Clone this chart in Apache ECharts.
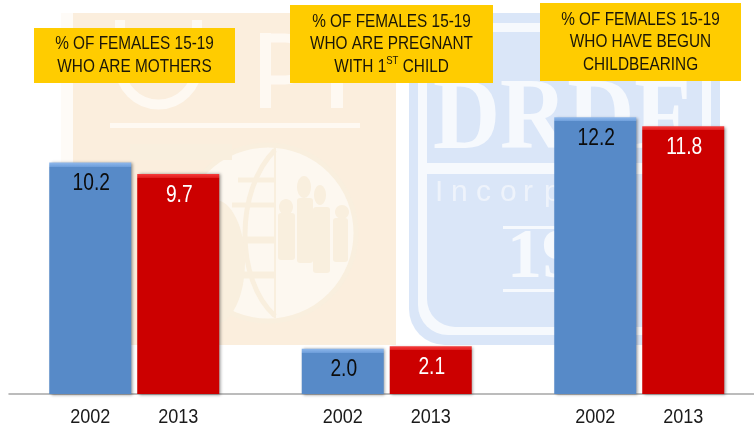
<!DOCTYPE html>
<html>
<head>
<meta charset="utf-8">
<style>
  html, body { margin: 0; padding: 0; background: #fff; }
  #main { width: 754px; height: 430px; }
</style>
</head>
<body>
<div id="main"></div>
<script src="https://cdn.jsdelivr.net/npm/echarts@6/dist/echarts.min.js"></script>
<script>
// values
var groupIndex = [0, 1, 2];
var years = ['2002', '2013'];
var values2002 = [10.2, 2.0, 12.2];
var values2013 = [9.7, 2.1, 11.8];
var headings = [
  '% OF FEMALES 15-19\nWHO ARE MOTHERS',
  '{n|% OF FEMALES 15-19}\n{n|WHO ARE PREGNANT}\n{n|WITH 1}{sup|ST}{n| CHILD}',
  '% OF FEMALES 15-19\nWHO HAVE BEGUN\nCHILDBEARING'
];

var sans = '"Liberation Sans", Arial, sans-serif';
var serif = '"Liberation Serif", serif';
var pxPerUnit = 363 / 16;
var halfPitch = 44; // bar centre to group centre

// bevel at the top of each bar: fixed pixels, so the stop depends on bar height
function bevel(value, light, mid, base) {
  var h = value * pxPerUnit;
  return {
    type: 'linear', x: 0, y: 0, x2: 0, y2: 1,
    colorStops: [
      { offset: 0, color: light },
      { offset: 4 / h, color: mid },
      { offset: 4.01 / h, color: base },
      { offset: 1, color: base }
    ]
  };
}

function barSeries(name, values, light, mid, base) {
  return {
    name: name,
    type: 'bar',
    barWidth: 82,
    barGap: '7.3%',
    data: values.map(function (v, i) {
      return { value: [groupIndex[i], v], itemStyle: { color: bevel(v, light, mid, base) } };
    }),
    itemStyle: {
      shadowColor: 'rgba(0,0,0,0.4)',
      shadowBlur: 3,
      shadowOffsetX: 1.5,
      shadowOffsetY: 0.5
    },
    z: 3
  };
}

// narrow text: no narrow face is installed, so real text is squeezed horizontally
function valueLabels(values, side, color) {
  return {
    type: 'custom',
    silent: true,
    z: 5,
    clip: false,
    data: values.map(function (v, i) { return [groupIndex[i], v]; }),
    renderItem: function (params, api) {
      var pt = api.coord([api.value(0), api.value(1)]);
      return {
        type: 'text', x: pt[0] + side * halfPitch + 1, y: pt[1] + 21, scaleX: 0.8,
        style: {
          text: api.value(1).toFixed(1), fontFamily: sans, fontSize: 24,
          fill: color, align: 'center', verticalAlign: 'middle'
        }
      };
    }
  };
}

function yearLabels(year, side) {
  return {
    type: 'custom',
    silent: true,
    z: 5,
    clip: false,
    data: groupIndex.map(function (g) { return [g, 0]; }),
    renderItem: function (params, api) {
      var pt = api.coord([api.value(0), 0]);
      return {
        type: 'text', x: pt[0] + side * halfPitch, y: 417, scaleX: 0.86,
        style: {
          text: year, fontFamily: sans, fontSize: 21,
          fill: '#1a1a1a', align: 'center', verticalAlign: 'middle'
        }
      };
    }
  };
}

// faded logo panels behind the plot
function rect(x, y, w, h, fill, r, z) {
  return { type: 'rect', z: z || -10, shape: { x: x, y: y, width: w, height: h, r: r || 0 }, style: { fill: fill } };
}
function word(x, y, text, size, fill, family, weight, scaleX) {
  return {
    type: 'text', z: -8, x: x, y: y, scaleX: scaleX || 1,
    style: { text: text, fontSize: size, fontFamily: family, fill: fill, fontWeight: weight || 'normal', verticalAlign: 'middle' }
  };
}
function disc(cx, cy, rx, ry, fill) {
  return { type: 'ellipse', z: -8, shape: { cx: cx, cy: cy, rx: rx, ry: ry }, style: { fill: fill } };
}
function line(x1, y1, x2, y2, color, lw) {
  return { type: 'line', z: -8, shape: { x1: x1, y1: y1, x2: x2, y2: y2 }, style: { stroke: color, lineWidth: lw } };
}
function arc(cx, cy, r, from, to, color, lw) {
  return { type: 'arc', z: -8, shape: { cx: cx, cy: cy, r: r, startAngle: from, endAngle: to, clockwise: true }, style: { stroke: color, lineWidth: lw, fill: 'none' } };
}

var beige = '#fbeedd';
var cream = '#fef9f2';
var seal = '#f9efde';
var blue = '#dae6f8';
var pale = '#f6f9fd';

var watermark = [
  rect(61, 13, 12, 332, '#fefbf7'),
  rect(73, 13, 323, 332, beige),
  // U P P letters, tops are hidden by the heading boxes
  line(120, 20, 120, 66, cream, 10),
  line(197, 20, 197, 66, cream, 10),
  arc(158.5, 66, 38.5, 0, Math.PI, cream, 10),
  rect(260, 33, 11, 75, cream),
  line(265, 38, 285, 38, cream, 9),
  line(265, 80, 285, 80, cream, 9),
  arc(285, 59, 21, -Math.PI / 2, Math.PI / 2, cream, 9),
  rect(331, 33, 12, 75, cream),
  rect(110, 123, 250, 5, cream),
  // seal
  { type: 'circle', z: -9, shape: { cx: 268, cy: 233, r: 88 }, style: { fill: '#fdf8f0', stroke: seal, lineWidth: 5 } },
  rect(130, 144, 102, 16, seal, 0, -8),
  line(275, 147, 275, 318, seal, 2),
  { type: 'bezierCurve', z: -8, shape: { x1: 275, y1: 150, cpx1: 235, cpy1: 190, cpx2: 235, cpy2: 280, x2: 275, y2: 316 }, style: { stroke: seal, lineWidth: 5, fill: 'none' } },
  line(238, 180, 275, 180, seal, 5),
  line(232, 205, 275, 205, seal, 5),
  line(228, 240, 275, 240, seal, 7),
  line(236, 275, 275, 275, seal, 7),
  disc(215, 262, 30, 62, seal),
  disc(304, 187, 7, 11, seal),
  rect(297, 198, 16, 65, seal, 3, -8),
  disc(320, 195, 6, 10, seal),
  rect(313, 207, 17, 66, seal, 3, -8),
  disc(286, 207, 7, 8, seal),
  rect(278, 213, 17, 47, seal, 3, -8),
  disc(342, 212, 7, 7, seal),
  rect(333, 218, 15, 44, seal, 3, -8),
  // second logo
  rect(409, 13, 311, 332, blue, 36),
  rect(418, 23, 293, 312, pale, 30),
  rect(427, 32, 275, 131, blue),
  rect(427, 174, 275, 153, blue, [0, 0, 0, 28]),
  word(433, 122, 'DRDF', 101, pale, serif, 'bold', 0.92),
  word(435, 193, 'I', 30, '#eef3fb', sans),
  word(451, 193, 'n', 30, '#eef3fb', sans),
  word(476, 193, 'c', 30, '#eef3fb', sans),
  word(500, 193, 'o', 30, '#eef3fb', sans),
  word(523, 193, 'r', 30, '#eef3fb', sans),
  word(544, 193, 'p', 30, '#eef3fb', sans),
  word(507, 259, '19', 70, pale, serif, 'bold'),
  rect(503, 226, 60, 3, pale, 0, -8),
  rect(503, 289, 60, 3, pale, 0, -8)
];

// yellow heading boxes
function heading(x, y, w, h, lines) {
  return {
    type: 'group', z: 20, children: [
      { type: 'rect', shape: { x: x, y: y, width: w, height: h }, style: { fill: '#ffcc00' } },
      {
        type: 'text', x: x + w / 2, y: y + h / 2, scaleX: 0.83,
        style: {
          text: lines, fontFamily: sans, fontSize: 18.5, lineHeight: 22.5,
          fill: '#1a1608', align: 'center', verticalAlign: 'middle',
          rich: {
            sup: { fontSize: 11.5, verticalAlign: 'top', padding: [0, 0, 7, 0], fontFamily: sans, fill: '#1a1608', lineHeight: 22.5 },
            n: { fontSize: 18.5, fontFamily: sans, fill: '#1a1608', lineHeight: 22.5 }
          }
        }
      }
    ]
  };
}

var chart = echarts.init(document.getElementById('main'), null, { renderer: 'canvas' });
chart.setOption({
  animation: false,
  backgroundColor: '#ffffff',
  grid: { left: 9, right: 0, top: 31, height: 363 },
  xAxis: {
    type: 'value', min: -0.496, max: 2.4545,
    axisTick: { show: false }, axisLabel: { show: false }, splitLine: { show: false },
    axisLine: { show: true, lineStyle: { color: '#a6a6a6', width: 1.5 } }
  },
  yAxis: { type: 'value', min: 0, max: 16, show: false },
  graphic: watermark.concat([
    heading(34, 28, 201, 55, headings[0]),
    heading(290, 5, 203, 78, headings[1]),
    heading(540, 3, 201, 78, headings[2])
  ]),
  series: [
    barSeries(years[0], values2002, '#8fb8ec', '#6f9fdb', '#578ac8'),
    barSeries(years[1], values2013, '#f53d3d', '#e01a1a', '#cc0000'),
    valueLabels(values2002, -1, '#0c0c0c'),
    valueLabels(values2013, 1, '#ffffff'),
    yearLabels(years[0], -1),
    yearLabels(years[1], 1)
  ]
});
</script>
</body>
</html>
